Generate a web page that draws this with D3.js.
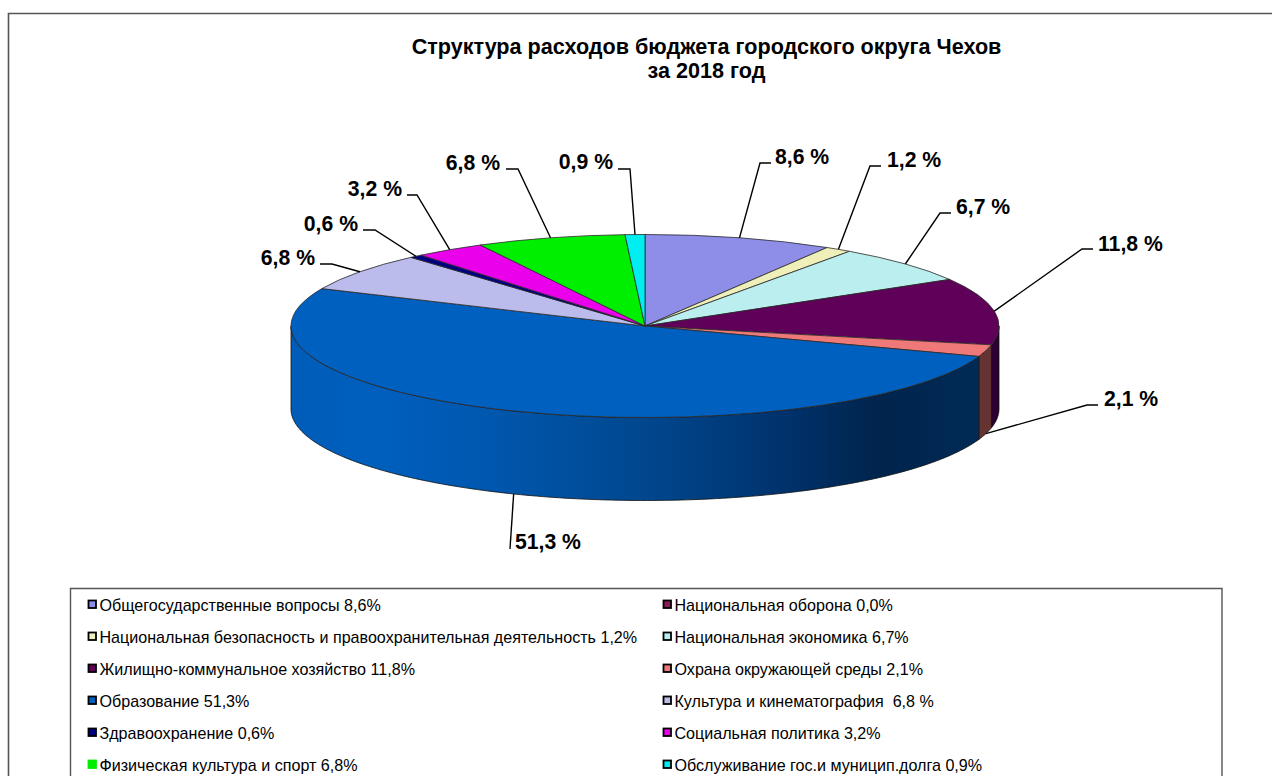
<!DOCTYPE html>
<html><head><meta charset="utf-8">
<script src="https://cdn.jsdelivr.net/npm/d3@7/dist/d3.min.js"></script>
<style>html,body{margin:0;padding:0;background:#fff;overflow:hidden}svg{display:block}text{font-family:"Liberation Sans",Arial,sans-serif;white-space:pre;fill:#000}</style>
</head><body><svg id="c" width="1272" height="776"></svg>
<script>
const titleLines = ["Структура расходов бюджета городского округа Чехов", "за 2018 год"];
const categories = ["Общегосударственные вопросы","Национальная оборона","Национальная безопасность и правоохранительная деятельность","Национальная экономика","Жилищно-коммунальное хозяйство","Охрана окружающей среды","Образование","Культура и кинематография","Здравоохранение","Социальная политика","Физическая культура и спорт","Обслуживание гос.и муницип.долга"];
const values = [8.6,0.0,1.2,6.7,11.8,2.1,51.3,6.8,0.6,3.2,6.8,0.9];
const legendLabels = ["Общегосударственные вопросы 8,6%","Национальная оборона 0,0%","Национальная безопасность и правоохранительная деятельность 1,2%","Национальная экономика 6,7%","Жилищно-коммунальное хозяйство 11,8%","Охрана окружающей среды 2,1%","Образование 51,3%","Культура и кинематография  6,8 %","Здравоохранение 0,6%","Социальная политика 3,2%","Физическая культура и спорт 6,8%","Обслуживание гос.и муницип.долга 0,9%"];
const topColors = ["#8e8ee9","#8b1a55","#efefb9","#bbeeee","#5f0059","#ef7878","#0060c0","#bbbbec","#000080","#ea00ea","#00ef00","#00eef2"];
const sideColors = ["#47477a","#45102a","#78785c","#5e7777","#2c0030","#663333","url(#blueSide)","#5e5e76","#000040","#750075","#007800","#007779"];

// layout only: cx, cy, radii, wall depth
const cx=645, cy=326, rx=354, ry=91.5, depth=83;
// leader elbows and label anchors for each non-empty slice, relative to the page
const leaderLayout = {
 0:{e:[[760,163],[771,163]],t:[775,164,"start"]},
 2:{e:[[870,166],[881,166]],t:[887,167,"start"]},
 3:{e:[[940,213],[951,213]],t:[956,214,"start"]},
 4:{e:[[1082,249],[1093,249]],t:[1098,251,"start"]},
 5:{e:[[1087,405],[1098,405]],t:[1104,406,"start"],bottom:true},
 6:{e:[[510,549]],t:[515,549,"start"],bottom:true},
 7:{e:[[332,264],[320,264]],t:[315,265,"end"]},
 8:{e:[[375,230],[363,230]],t:[358,231,"end"]},
 9:{e:[[417,195],[407,195]],t:[402,196,"end"]},
 10:{e:[[518,169],[506,169]],t:[500,170,"end"]},
 11:{e:[[630,169],[618,169]],t:[613,169,"end"]}
};

const svg=d3.select("#c");
const defs=svg.append("defs");
const grad=defs.append("linearGradient").attr("id","blueSide").attr("gradientUnits","userSpaceOnUse")
  .attr("x1",cx-rx).attr("x2",cx+rx).attr("y1",0).attr("y2",0);
[[0,"#005cb8"],[0.12,"#005fbe"],[0.3,"#0056ac"],[0.5,"#00478e"],[0.68,"#003470"],[0.83,"#00244c"],[1,"#002c58"]]
  .forEach(s=>grad.append("stop").attr("offset",s[0]).attr("stop-color",s[1]));

// frames
const frame="#555";
svg.append("path").attr("d","M1272,13.5H8.5V776").attr("fill","none").attr("stroke",frame).attr("stroke-width",1.6);
svg.append("path").attr("d","M70.5,776V588.5H1222V776").attr("fill","none").attr("stroke",frame).attr("stroke-width",1.4);

// title
svg.selectAll(".title").data(titleLines).join("text").attr("class","title")
  .attr("x",706.5).attr("y",(d,i)=>54+i*24).attr("text-anchor","middle")
  .attr("font-size",21.6).attr("font-weight","bold").text(d=>d);

// pie geometry
const pie=d3.pie().sort(null).value(d=>d)(values);
const px=a=>cx+rx*Math.sin(a), py=a=>cy-ry*Math.cos(a);
const front0=Math.PI/2, front1=3*Math.PI/2;

// walls
const g=svg.append("g");
function wallPath(a0,a1){
  const p=d3.path();
  const n=Math.max(2,Math.ceil((a1-a0)*60));
  const ang=d3.range(n+1).map(i=>a0+(a1-a0)*i/n);
  p.moveTo(px(a0),py(a0));
  ang.forEach(a=>p.lineTo(px(a),py(a)));
  ang.slice().reverse().forEach(a=>p.lineTo(px(a),py(a)+depth));
  p.closePath();
  return p.toString();
}
g.selectAll(".wall").data(pie.filter(d=>d.value>0&&d.endAngle>front0&&d.startAngle<front1)).join("path")
  .attr("class","wall")
  .attr("d",d=>wallPath(Math.max(d.startAngle,front0),Math.min(d.endAngle,front1)))
  .attr("fill",d=>sideColors[d.index]).attr("stroke","#111").attr("stroke-width",0.8).attr("stroke-linejoin","round");

// top face
const arc=d3.arc().innerRadius(0).outerRadius(rx);
g.append("g").attr("transform",`translate(${cx},${cy}) scale(1,${ry/rx})`)
 .selectAll("path").data(pie.filter(d=>d.value>0)).join("path")
 .attr("d",arc).attr("fill",d=>topColors[d.index])
 .attr("stroke","#2a2a2a").attr("stroke-width",0.8).attr("vector-effect","non-scaling-stroke").attr("stroke-linejoin","round");

// leaders and labels
const fmt=v=>v.toFixed(1).replace(".",",")+" %";
const lab=pie.filter(d=>d.value>0);
const line=d3.line();
svg.selectAll(".leader").data(lab).join("path").attr("class","leader")
  .attr("d",d=>{const L=leaderLayout[d.index],m=(d.startAngle+d.endAngle)/2;
    return line([[px(m),py(m)+(L.bottom?depth:0)],...L.e]);})
  .attr("fill","none").attr("stroke","#000").attr("stroke-width",1.4);
svg.selectAll(".lbl").data(lab).join("text").attr("class","lbl")
  .attr("x",d=>leaderLayout[d.index].t[0]).attr("y",d=>leaderLayout[d.index].t[1])
  .attr("text-anchor",d=>leaderLayout[d.index].t[2])
  .attr("font-size",21.2).attr("font-weight","bold").text(d=>fmt(d.value));

// legend
const colX=d3.scaleOrdinal().domain([0,1]).range([88,663]);
const rowY=d3.scalePoint().domain(d3.range(6)).range([605,765]);
const items=svg.selectAll(".li").data(legendLabels).join("g").attr("class","li")
  .attr("transform",(d,i)=>`translate(${colX(i%2)},${rowY(Math.floor(i/2))})`);
items.append("rect").attr("x",0.5).attr("y",-4.5).attr("width",7.5).attr("height",7.5)
  .attr("fill",(d,i)=>topColors[i]).attr("stroke",(d,i)=>i===10?topColors[i]:"#000").attr("stroke-width",1.8);
items.append("text").attr("x",11.5).attr("y",5.5).attr("font-size",16.1).text(d=>d);
</script></body></html>
